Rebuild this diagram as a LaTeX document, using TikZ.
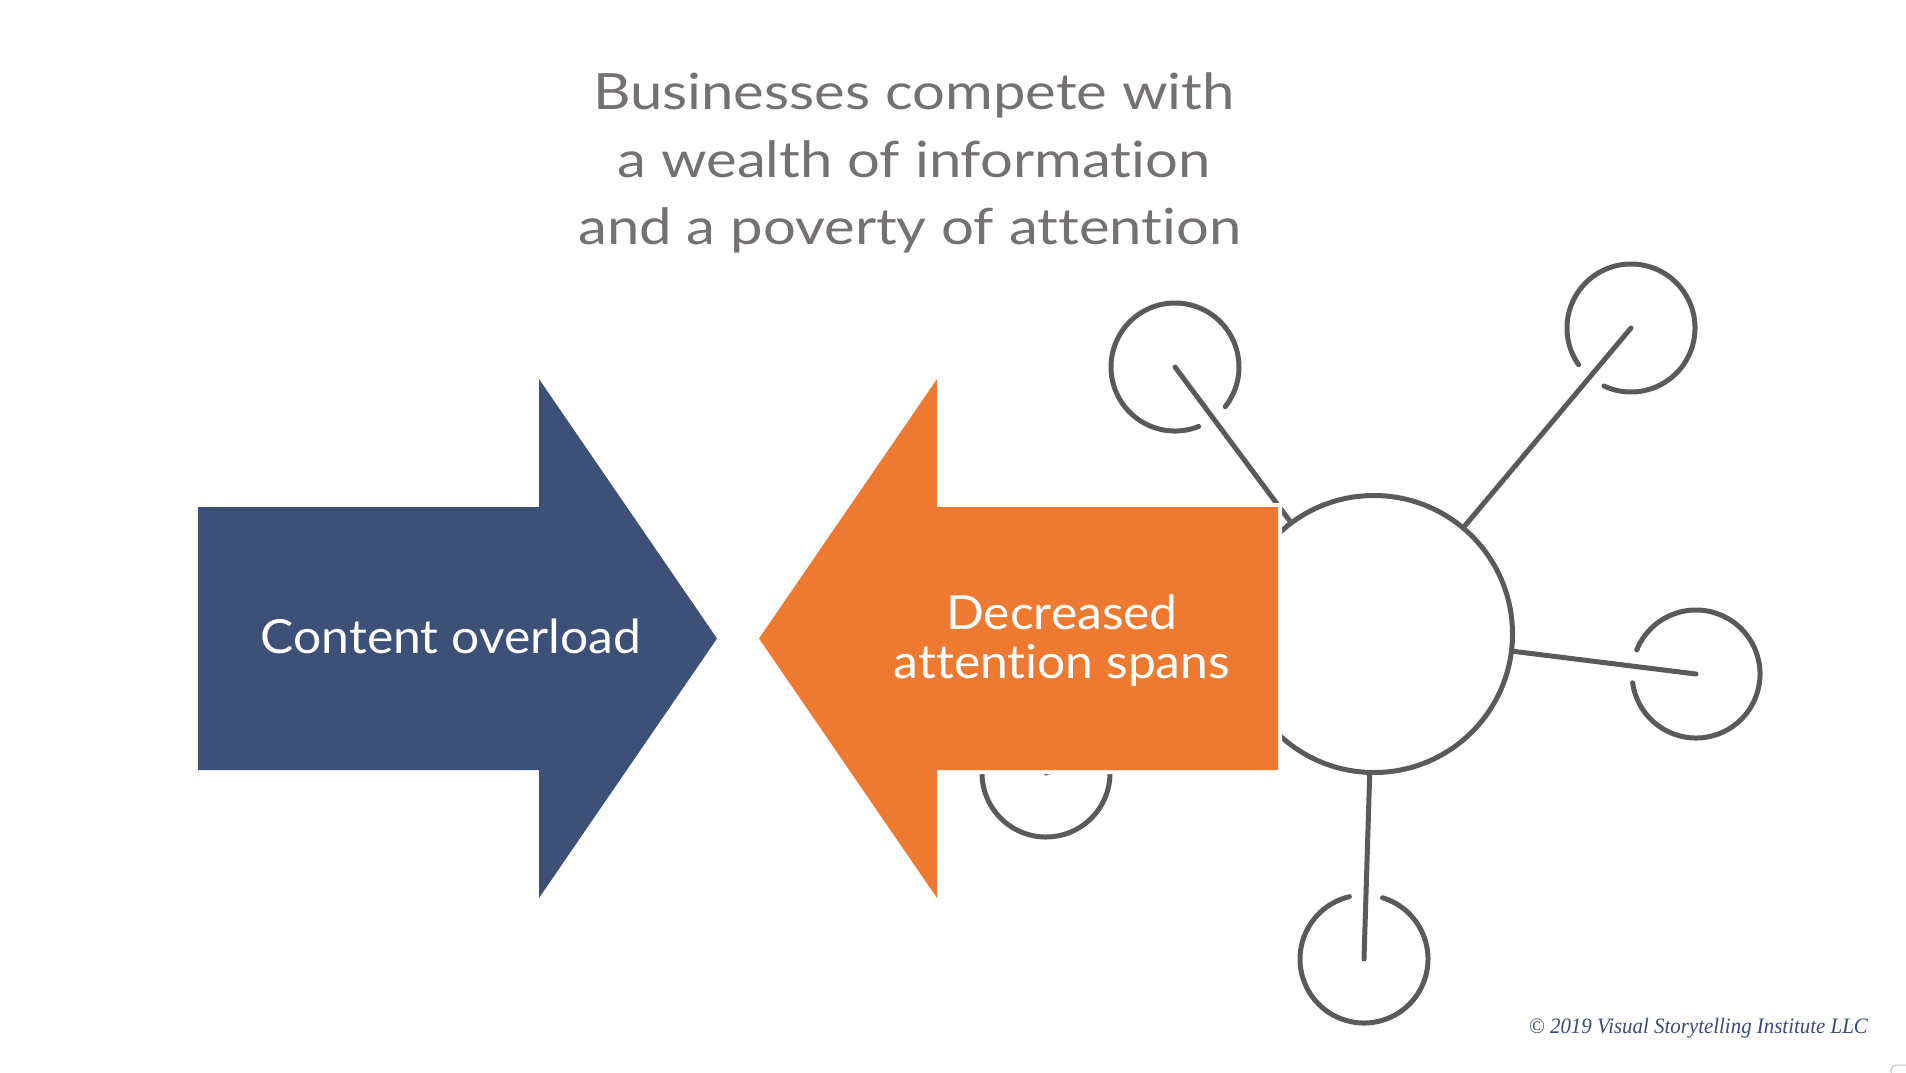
\documentclass[tikz,border=0pt]{standalone}
\usepackage{fontspec}
\setmainfont{Lato}[Ligatures=NoCommon]
\newfontfamily\titlefont{Lato}[Ligatures=NoCommon, FakeStretch=1.16]
\newfontfamily\whitefont{Lato}[Ligatures=NoCommon, FakeStretch=1.06]
\newfontfamily\copyfont{Liberation Serif}[FakeStretch=0.95]
\definecolor{arrowblue}{HTML}{3D5078}
\definecolor{arroworange}{HTML}{EE7A31}
\definecolor{netgray}{HTML}{5A5A5A}
\definecolor{titlegray}{HTML}{767171}
\definecolor{copyblue}{HTML}{3B4A7C}
\tikzset{
  net/.style={draw=netgray, line width=5pt, line cap=round},
  titletext/.style={text=titlegray, inner sep=0pt, anchor=base, font=\titlefont\fontsize{50}{60}\selectfont},
  arrowtext/.style={text=white, inner sep=0pt, anchor=base, font=\whitefont\fontsize{47}{56}\selectfont},
}
\begin{document}
\begin{tikzpicture}[x=1pt,y=-1pt]
\useasboundingbox (0,0) rectangle (1906,1072);
\clip (0,0) rectangle (1906,1072);
\fill[white] (0,0) rectangle (1906,1072);

% title
\node[titletext] (t1) at (914,109) {Businesses compete with};
\node[titletext] (t2) at (914,177) {a wealth of information};
\node[titletext] (t3) at (910,244) {and a poverty of attention};

% network
\node[net, circle, minimum size=277pt, inner sep=0pt, fill=white] (big) at (1374,634) {};
\coordinate (tl) at (1175,367);
\coordinate (tr) at (1631,328);
\coordinate (rt) at (1696,674);
\coordinate (bt) at (1364,959);
\coordinate (ll) at (1046,773);
\foreach \c/\a in {tl/53.3, tr/130.0, rt/187.1, bt/271.8, ll/-23} {
  \draw[net] ([shift={(\a+15:64)}]\c) arc[start angle=\a+15, delta angle=330, radius=64];
  \draw[net] (\c) -- (big);
}

% orange arrow (with white rim)
\draw[white, line width=8pt, line join=miter]
  (1278,507) -- (937,507) -- (937,379) -- (759,638.5) -- (937,898) -- (937,770) -- (1278,770) -- cycle;
\fill[arroworange]
  (1278,507) -- (937,507) -- (937,379) -- (759,638.5) -- (937,898) -- (937,770) -- (1278,770) -- cycle;

% blue arrow
\fill[arrowblue]
  (198,507) -- (539,507) -- (539,379) -- (717,638.5) -- (539,898) -- (539,770) -- (198,770) -- cycle;

\node[arrowtext] (content) at (451,653) {Content overload};
\node[arrowtext] (dec1) at (1062,629) {Decreased};
\node[arrowtext] (dec2) at (1062,678) {attention spans};

% copyright
\node[text=copyblue, inner sep=0pt, anchor=base east, font=\copyfont\itshape\fontsize{22}{26}\selectfont] (copy) at (1868,1033) {\textcopyright\ 2019 Visual Storytelling Institute LLC};

% corner artifact
\draw[draw=black!25, line width=1pt, rounded corners=6pt] (1891,1065) rectangle (1930,1100);
\end{tikzpicture}
\end{document}
